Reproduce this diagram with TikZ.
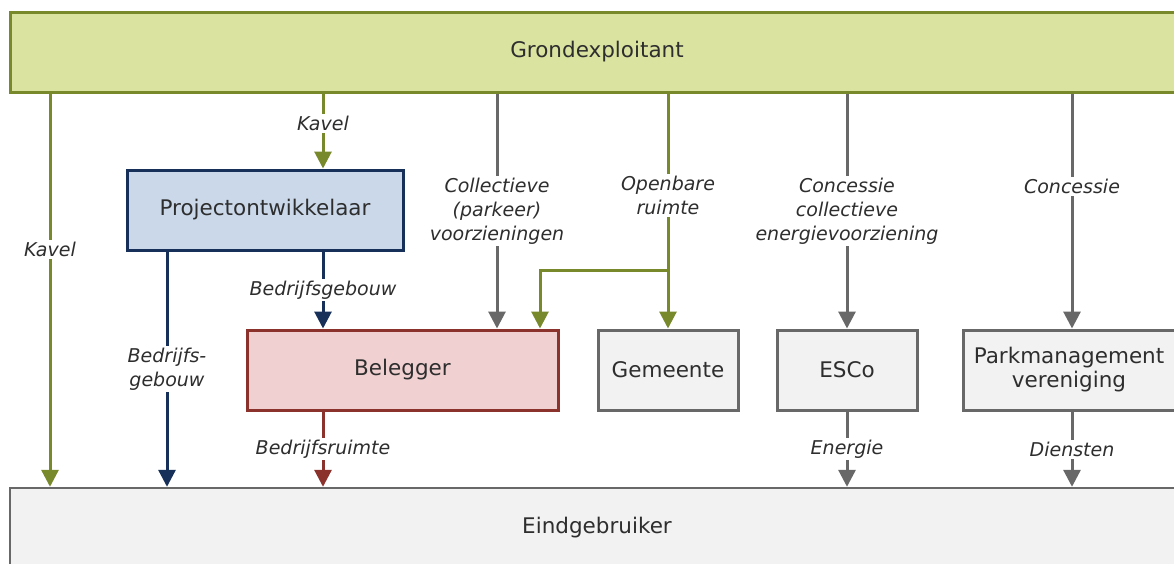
\documentclass[tikz,border=0pt]{standalone}
\usepackage{fontspec}
\setmainfont{DejaVu Sans}
\usetikzlibrary{arrows.meta}
\definecolor{olv}{HTML}{77892B}
\definecolor{olvfill}{HTML}{DBE3A1}
\definecolor{nvy}{HTML}{17305A}
\definecolor{bluefill}{HTML}{CAD8EA}
\definecolor{rd}{HTML}{8C322C}
\definecolor{pinkfill}{HTML}{F0D0D0}
\definecolor{gry}{HTML}{686868}
\definecolor{gryfill}{HTML}{F2F2F2}
\definecolor{txt}{HTML}{2E2E2E}
\tikzset{
  box/.style={draw, line width=3pt, rectangle, minimum height=80pt, inner sep=0pt,
    text=txt, font=\fontsize{21.5}{26}\selectfont, align=center},
  lab/.style={fill=white, inner sep=2pt, text=txt, align=center,
    font=\fontsize{19}{24}\selectfont\itshape},
  conn/.style={line width=3pt, -{Triangle[width=17pt,length=17pt]}},
}
\begin{document}
\begin{tikzpicture}[x=1pt,y=-1pt]
\clip (0,0) rectangle (1174,563);
\fill[white] (0,0) rectangle (1174,563);

% boxes
\node[box, draw=olv, fill=olvfill, minimum width=1174pt] (top) at (597,52) {Grondexploitant};
\node[box, draw=nvy, fill=bluefill, minimum width=276pt] (proj) at (265,210) {Projectontwikkelaar};
\node[box, draw=rd, fill=pinkfill, minimum width=311pt] (bel) at (402.5,370) {Belegger};
\node[box, draw=gry, fill=gryfill, minimum width=140pt] (gem) at (668,370) {Gemeente};
\node[box, draw=gry, fill=gryfill, minimum width=140pt] (esco) at (847,370) {ESCo};
\node[box, draw=gry, fill=gryfill, minimum width=212pt] (park) at (1069,370) {Parkmanagement\\[-2pt]vereniging};
\node[box, draw=gry, fill=gryfill, line width=2.4pt, minimum width=1174pt] (eind) at (597,528) {Eindgebruiker};

% column coordinates
\coordinate (c50) at (50,0);
\coordinate (c167) at (167,0);
\coordinate (c323) at (323,0);
\coordinate (c497) at (497,0);
\coordinate (c540) at (540,0);
\coordinate (c668) at (668,0);
\coordinate (c847) at (847,0);
\coordinate (c1072) at (1072,0);
\coordinate (split) at (668,270);
\coordinate (bend) at (540,270);

% connectors
\draw[conn, olv] (c50 |- top.south) -- node[lab, pos=0.397] (lk1) {Kavel} (c50 |- eind.north);
\draw[conn, olv] (c323 |- top.south) -- node[lab, pos=0.40] (lk2) {Kavel} (c323 |- proj.north);
\draw[conn, gry] (c497 |- top.south) -- node[lab, midway] (lcol) {Collectieve\\(parkeer)\\voorzieningen} (c497 |- bel.north);
\draw[conn, olv] (c668 |- top.south) -- node[lab, pos=0.435] (lopen) {Openbare\\ruimte} (c668 |- gem.north);
\draw[conn, olv] (split) -- (bend) -- (c540 |- bel.north);
\draw[conn, gry] (c847 |- top.south) -- node[lab, midway] (lcon1) {Concessie\\collectieve\\energievoorziening} (c847 |- esco.north);
\draw[conn, gry] (c1072 |- top.south) -- node[lab, pos=0.397] (lcon2) {Concessie} (c1072 |- park.north);
\draw[conn, nvy] (c323 |- proj.south) -- node[lab, midway] (lbg) {Bedrijfsgebouw} (c323 |- bel.north);
\draw[conn, nvy] (c167 |- proj.south) -- node[lab, midway] (lbg2) {Bedrijfs-\\gebouw} (c167 |- eind.north);
\draw[conn, rd] (c323 |- bel.south) -- node[lab, midway] (lbr) {Bedrijfsruimte} (c323 |- eind.north);
\draw[conn, gry] (c847 |- esco.south) -- node[lab, midway] (len) {Energie} (c847 |- eind.north);
\draw[conn, gry] (c1072 |- park.south) -- node[lab, midway] (ldi) {Diensten} (c1072 |- eind.north);
\end{tikzpicture}
\end{document}
